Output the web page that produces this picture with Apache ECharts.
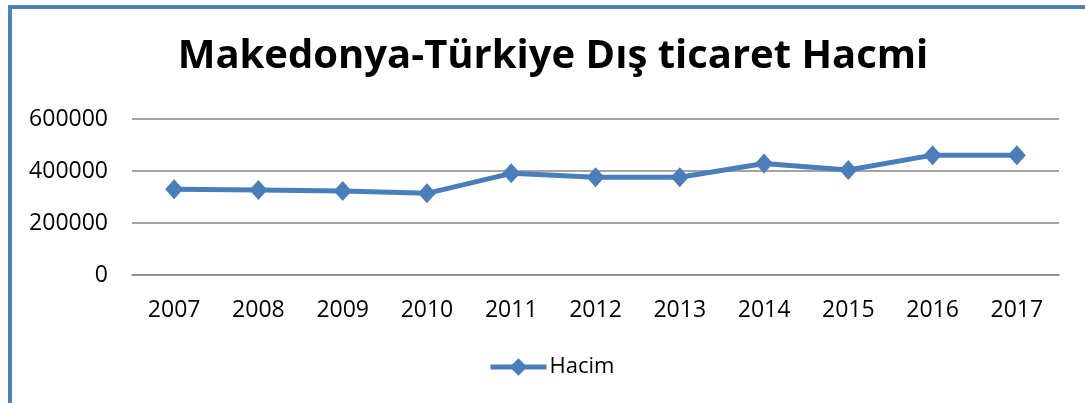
<!DOCTYPE html>
<html>
<head>
<meta charset="utf-8">
<script src="https://cdn.jsdelivr.net/npm/echarts@6/dist/echarts.min.js"></script>
<style>
  html, body { margin: 0; padding: 0; background: #fff; }
  #wrap { position: relative; width: 1085px; height: 403px; overflow: hidden; }
  #chart { width: 1085px; height: 403px; }
  /* dış çerçeve (Excel grafik kenarlığı) */
  #frame { position: absolute; left: 8px; top: 5px; width: 1200px; height: 500px;
           border: 4px solid #4F81BD; pointer-events: none; }
</style>
</head>
<body>
<div id="wrap">
  <div id="chart"></div>
  <div id="frame"></div>
</div>
<script>
// veriler
const years = ["2007", "2008", "2009", "2010", "2011", "2012", "2013", "2014", "2015", "2016", "2017"];
const hacim = [330000, 327000, 323000, 314000, 391000, 376000, 376000, 429000, 404000, 461000, 461000];
const seriesName = "Hacim";
const titleText = "Makedonya-Türkiye Dış ticaret Hacmi";

const chart = echarts.init(document.getElementById("chart"));
const font = "'Open Sans', 'Noto Sans', sans-serif";

chart.setOption({
  animation: false,
  title: {
    text: titleText,
    left: 548,
    textAlign: "center",
    top: 32,
    textStyle: { fontFamily: font, fontWeight: "bold", fontSize: 40, color: "#000" }
  },
  legend: {
    bottom: 20,
    left: 483,
    itemWidth: 56,
    itemHeight: 22,
    itemGap: 10,
    data: [seriesName],
    lineStyle: { width: 5 },
    textStyle: { fontFamily: font, fontSize: 22, color: "#000", padding: [0, 0, 0, -2] }
  },
  grid: { left: 132, right: 26, top: 119, bottom: 128 },
  xAxis: {
    type: "category",
    data: years,
    boundaryGap: true,
    axisLine: { lineStyle: { color: "#868686", width: 1.5 } },
    axisTick: { show: false },
    axisLabel: { fontFamily: font, fontSize: 23, color: "#000", margin: 24 }
  },
  yAxis: {
    type: "value",
    min: 0,
    max: 600000,
    interval: 200000,
    axisLine: { show: false },
    axisTick: { show: false },
    splitLine: { lineStyle: { color: "#868686", width: 1.5 } },
    axisLabel: { fontFamily: font, fontSize: 23, color: "#000", margin: 24,
                 formatter: v => String(v) }
  },
  series: [{
    name: seriesName,
    type: "line",
    data: hacim,
    symbol: "diamond",
    symbolSize: [18, 20],
    color: "#4A7EBB",
    lineStyle: { width: 5, color: "#4A7EBB" },
    itemStyle: { color: "#4A7EBB" }
  }]
});
</script>
</body>
</html>
